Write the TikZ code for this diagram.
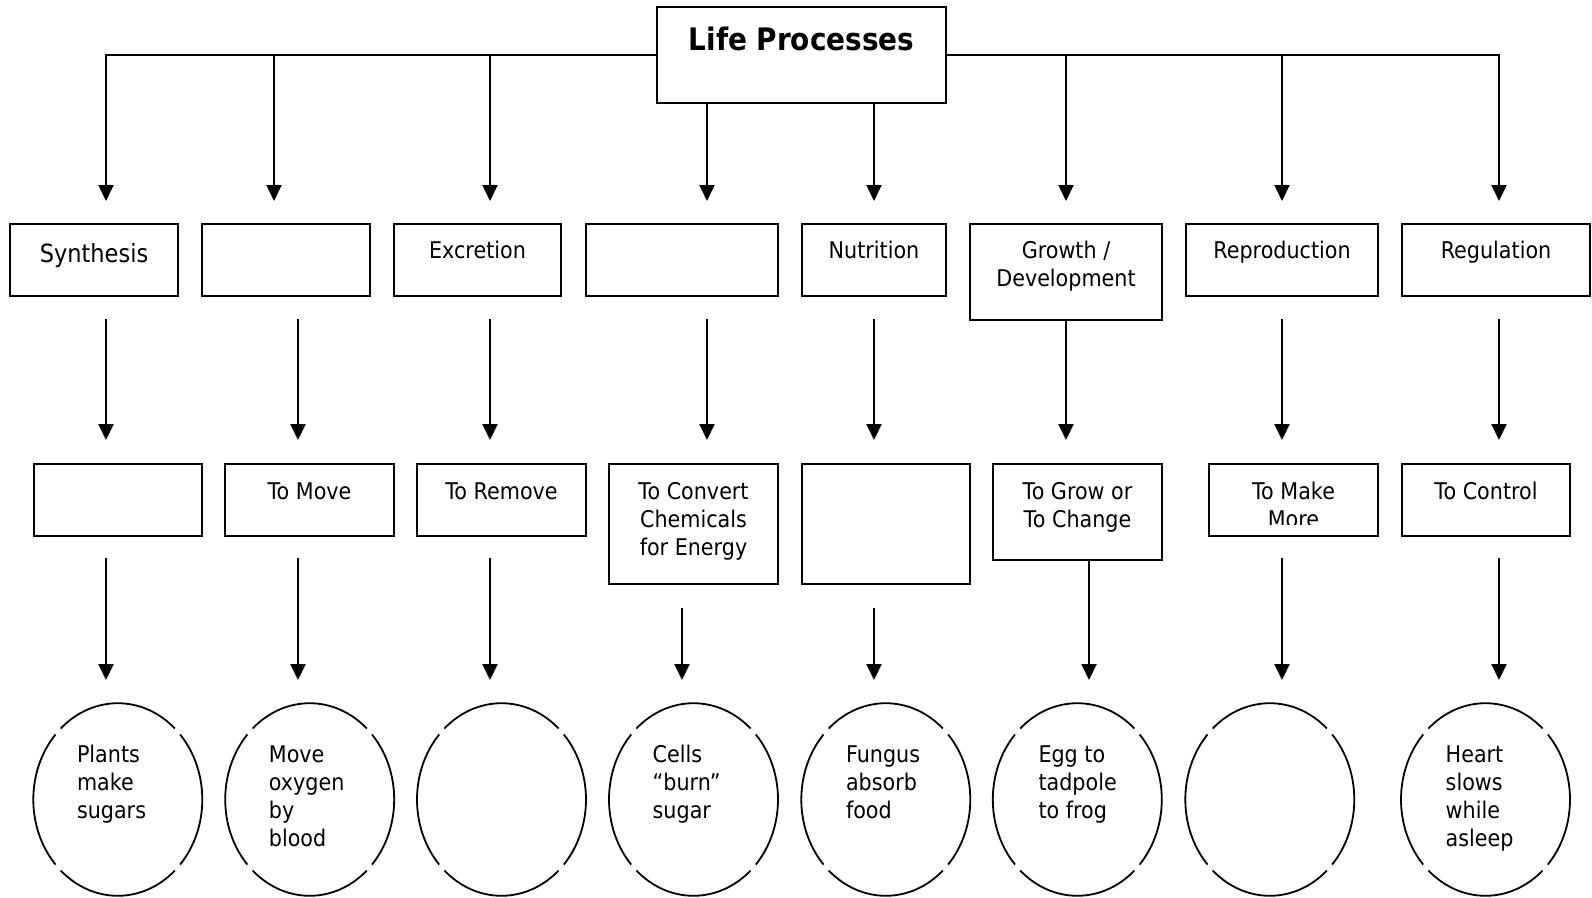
\documentclass[tikz,border=0pt]{standalone}
\usepackage{fontspec}
\setmainfont{DejaVu Sans}[FakeStretch=0.9]
\usetikzlibrary{arrows.meta,calc,shapes.geometric}

\begin{document}
\begin{tikzpicture}[x=1pt,y=-1pt,
  boxline/.style={draw,line width=2pt,rectangle,inner sep=0pt,outer sep=0pt},
  txt/.style={font=\fontsize{23}{28.3}\selectfont,inner sep=0pt,anchor=base},
  bubbletxt/.style={font=\fontsize{23}{28.3}\selectfont,inner sep=0pt,anchor=base west},
  link/.style={line width=2pt,-{Triangle[length=16pt,width=15pt]}},
  bubble/.style={ellipse,draw=none,inner sep=0pt,minimum width=169pt,minimum height=192.6pt},
  rim/.style={line width=1.8pt}
]
\fill[white] (0,0) rectangle (1592,897);
\useasboundingbox (0,0) rectangle (1592,897);

% ---------- title ----------
\node[boxline,line width=2.2pt,minimum width=289pt,minimum height=96pt] (title) at (801.5,55) {};
\node[inner sep=0pt,anchor=base,font=\fontsize{31}{36}\selectfont\bfseries] (titletxt)
  at ([yshift=-43.7pt]title.north) {Life Processes};

% ---------- first row of boxes ----------
\foreach \n/\cx/\w in {b1/94/168, b2/286/168, b3/477.5/167, b4/682/192,
                       b5/874/144, b7/1282/192, b8/1496/188}
  \node[boxline,minimum width=\w pt,minimum height=72pt] (\n) at (\cx,260) {};
\node[boxline,minimum width=192pt,minimum height=96pt] (b6) at (1066,272) {};

\node[inner sep=0pt,anchor=base,font=\fontsize{25}{30}\selectfont] (lb1)
  at ([yshift=-38pt]b1.north) {Synthesis};
\node[txt] (lb3) at ([yshift=-34.5pt]b3.north) {Excretion};
\node[txt] (lb5) at ([yshift=-34.5pt]b5.north) {Nutrition};
\node[txt] (lb6) at ([yshift=-34.5pt]b6.north) {\parbox[t]{200pt}{\centering Growth /\\Development}};
\node[txt] (lb7) at ([yshift=-34.5pt]b7.north) {Reproduction};
\node[txt] (lb8) at ([yshift=-34.5pt]b8.north) {Regulation};

% ---------- second row of boxes ----------
\foreach \n/\cx/\w in {c1/118/168, c2/309.5/169, c3/501.5/169,
                       c7/1293.5/169, c8/1486/168}
  \node[boxline,minimum width=\w pt,minimum height=72pt] (\n) at (\cx,500) {};
\node[boxline,minimum width=169pt,minimum height=120pt] (c4) at (693.5,524) {};
\node[boxline,minimum width=168pt,minimum height=120pt] (c5) at (886,524) {};
\node[boxline,minimum width=169pt,minimum height=96pt] (c6) at (1077.5,512) {};

\node[txt] (lc2) at ([yshift=-35pt]c2.north) {To Move};
\node[txt] (lc3) at ([yshift=-35pt]c3.north) {To Remove};
\node[txt] (lc4) at ([yshift=-35pt]c4.north) {\parbox[t]{200pt}{\centering To Convert\\Chemicals\\for Energy}};
\node[txt] (lc6) at ([yshift=-35pt]c6.north) {\parbox[t]{200pt}{\centering To Grow or\\To Change}};
\begin{scope}
  \clip (c7.north west) rectangle ([yshift=11.5pt]c7.south east);
  \node[txt] (lc7) at ([yshift=-35pt]c7.north) {\parbox[t]{200pt}{\centering To Make\\More}};
\end{scope}
\node[txt] (lc8) at ([yshift=-35pt]c8.north) {To Control};

% ---------- bottom row of bubbles ----------
\foreach \n/\cx in {e1/117.8, e2/309.7, e3/501.5, e4/693.5,
                    e5/885.8, e6/1077.3, e7/1269.8, e8/1485.5} {
  \node[bubble] (\n) at (\cx,799.5) {};
  \foreach \a in {0,90,180,270}
    \draw[rim] ([shift={(\a+47.5:84.5 and 96.3)}]\n.center)
      arc[start angle=\a+47.5, delta angle=85, x radius=84.5, y radius=96.3];
}
\node[bubbletxt] (le1) at ([xshift=-41pt]e1.center |- 0,762) {\parbox[t]{120pt}{Plants\\make\\sugars}};
\node[bubbletxt] (le2) at ([xshift=-41pt]e2.center |- 0,762) {\parbox[t]{120pt}{Move\\oxygen\\by\\blood}};
\node[bubbletxt] (le4) at ([xshift=-41pt]e4.center |- 0,762) {\parbox[t]{120pt}{Cells\\“burn”\\sugar}};
\node[bubbletxt] (le5) at ([xshift=-40pt]e5.center |- 0,762) {\parbox[t]{120pt}{Fungus\\absorb\\food}};
\node[bubbletxt] (le6) at ([xshift=-39pt]e6.center |- 0,762) {\parbox[t]{120pt}{Egg to\\tadpole\\to frog}};
\node[bubbletxt] (le8) at ([xshift=-40pt]e8.center |- 0,762) {\parbox[t]{120pt}{Heart\\slows\\while\\asleep}};

% ---------- connector end points ----------
\foreach \i/\x in {1/106, 2/274, 3/490, 4/707, 5/874, 6/1066, 7/1282, 8/1499} {
  \coordinate (bus\i) at (\x,55);
  \coordinate (tipA\i) at (\x,201);
}
\foreach \i/\x in {1/106, 2/298, 3/490, 4/707, 5/874, 6/1066, 7/1282, 8/1499} {
  \coordinate (srcB\i) at (\x,319);
  \coordinate (tipB\i) at (\x,440);
}
\foreach \i/\x/\s in {1/106/558, 2/298/558, 3/490/558, 4/682/608,
                      5/874/608, 6/1089/560, 7/1282/558, 8/1499/558} {
  \coordinate (srcC\i) at (\x,\s);
  \coordinate (tipC\i) at (\x,680);
}

% ---------- connectors: title to first row ----------
\draw[link] (title.west) -- (bus1) -- (tipA1);
\draw[link] (bus2) -- (tipA2);
\draw[link] (bus3) -- (tipA3);
\draw[link] (tipA4 |- title.south) -- (tipA4);
\draw[link] (tipA5 |- title.south) -- (tipA5);
\draw[link] (title.east) -- (bus8) -- (tipA8);
\draw[link] (bus6) -- (tipA6);
\draw[link] (bus7) -- (tipA7);

% ---------- connectors: first row to second row ----------
\foreach \i in {1,2,3,4,5,7,8}
  \draw[link] (srcB\i) -- (tipB\i);
\draw[link] (b6.south) -- (tipB6);

% ---------- connectors: second row to bubbles ----------
\foreach \i in {1,...,8}
  \draw[link] (srcC\i) -- (tipC\i);
\end{tikzpicture}
\end{document}
